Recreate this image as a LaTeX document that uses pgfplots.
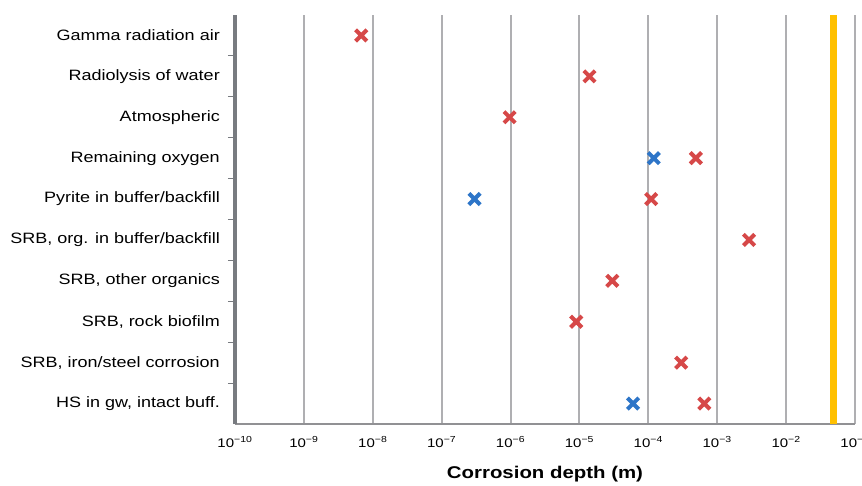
\documentclass[border=0pt]{standalone}
\usepackage{fontspec}
\setmainfont{Liberation Sans}[FakeStretch=1.2]
\usepackage{pgfplots}
\pgfplotsset{compat=1.18}
\definecolor{cred}{RGB}{214,72,72}
\definecolor{cblue}{RGB}{45,117,200}
\definecolor{cgold}{RGB}{255,192,0}
\definecolor{gridc}{RGB}{175,175,178}
\definecolor{axc}{RGB}{120,123,128}
\definecolor{botc}{RGB}{145,145,148}
\begin{document}
\begin{tikzpicture}[x=1pt,y=1pt]
\useasboundingbox (-235,-61) rectangle (627,424);
\begin{axis}[
  at={(0,0)}, anchor=south west,
  scale only axis, width=620pt, height=409pt,
  xmode=log, xmin=1e-10, xmax=1e-1,
  ymin=0.5, ymax=10.5,
  axis x line*=bottom, axis y line*=left,
  x axis line style={-, line width=2.4pt, color=botc},
  y axis line style={-, line width=3.2pt, color=axc},
  xtick={1e-10,1e-9,1e-8,1e-7,1e-6,1e-5,1e-4,1e-3,1e-2,1e-1},
  xticklabels={10\textsuperscript{−10},10\textsuperscript{−9},10\textsuperscript{−8},10\textsuperscript{−7},10\textsuperscript{−6},10\textsuperscript{−5},10\textsuperscript{−4},10\textsuperscript{−3},10\textsuperscript{−2},10\textsuperscript{−1}},
  minor xtick={},
  xtick style={draw=none},
  xmajorgrids, major grid style={gridc, line width=2pt},
  xticklabel style={font=\fontsize{12.5}{14}\selectfont, anchor=base, yshift=-23pt, inner sep=0pt},
  ytick={1,...,10},
  yticklabels={HS in gw{,} intact buff.,SRB{,} iron/steel corrosion,SRB{,} rock biofilm,SRB{,} other organics,SRB{,} org. in buffer/backfill,Pyrite in buffer/backfill,Remaining oxygen,Atmospheric,Radiolysis of water,Gamma radiation air},
  major tick length=0pt,
  minor ytick={1.5,2.5,...,9.5},
  minor tick length=7pt,
  tick align=outside,
  minor tick style={axc, line width=1pt},
  yticklabel style={font=\fontsize{15}{18}\selectfont, anchor=east, xshift=-15pt, inner sep=0pt},
  xlabel={Corrosion depth (m)},
  xlabel style={font=\bfseries\fontsize{17}{20}\selectfont, at={(axis description cs:0.5,0)}, anchor=base, yshift=-54pt},
  clip=false,
]
\addplot[cgold, line width=7pt] coordinates {(0.048,0.5) (0.048,10.5)};
\addplot[only marks, mark=x, mark size=8pt, cred, mark options={line width=4pt}] coordinates {
  (6.8e-9,10) (1.4e-5,9) (9.7e-7,8) (4.9e-4,7) (1.1e-4,6) (2.9e-3,5) (3e-5,4) (9e-6,3) (3e-4,2) (6.5e-4,1)
};
\addplot[only marks, mark=x, mark size=8pt, cblue, mark options={line width=4pt}] coordinates {
  (1.2e-4,7) (3e-7,6) (6e-5,1)
};
\end{axis}
\end{tikzpicture}
\end{document}
